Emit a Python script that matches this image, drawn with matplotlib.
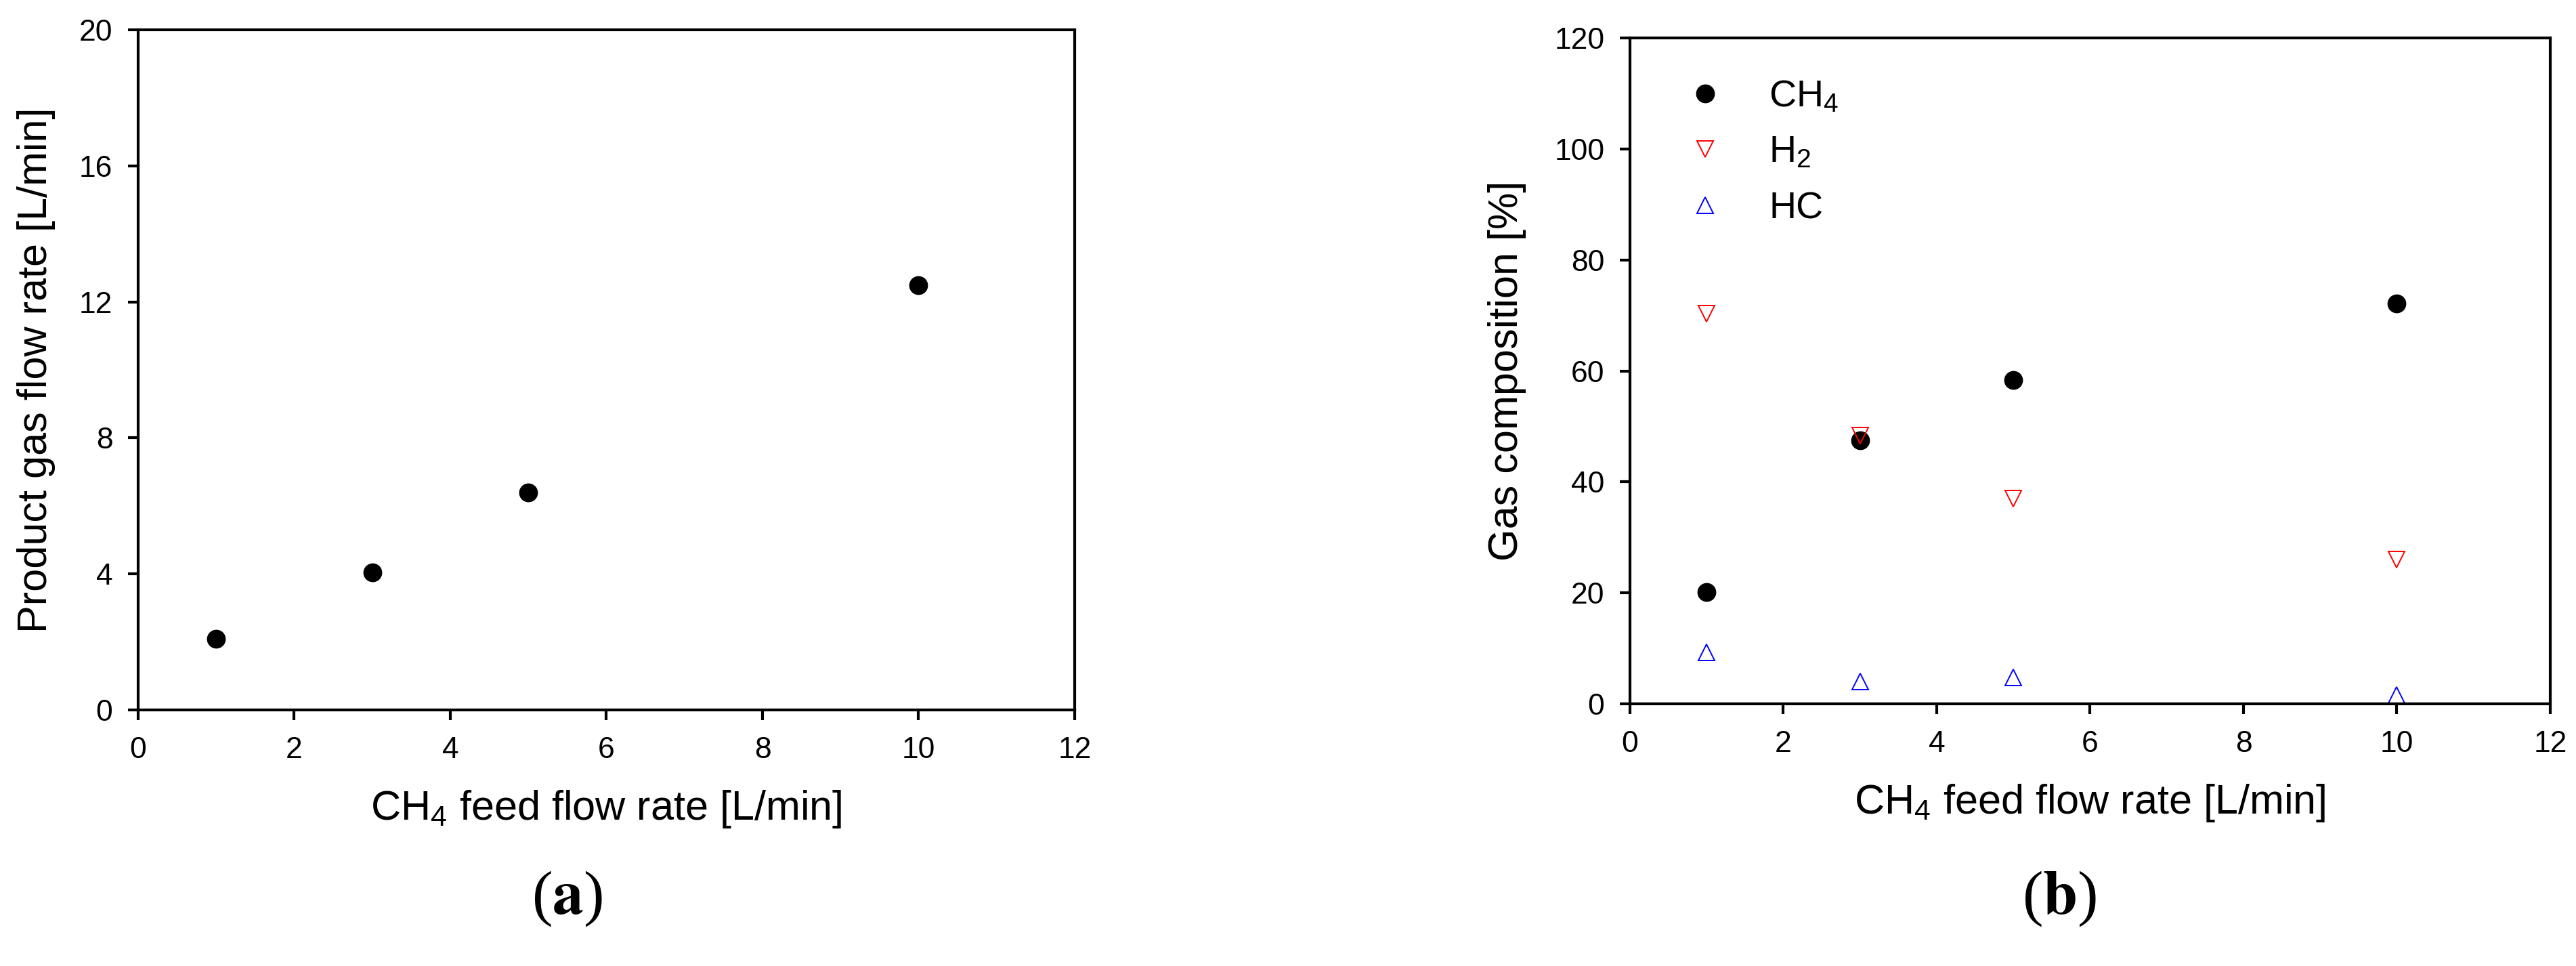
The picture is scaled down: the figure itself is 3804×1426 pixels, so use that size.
import matplotlib
matplotlib.use("Agg")
import matplotlib.pyplot as plt

# ---- data ----
feed_rate = [1, 3, 5, 10]
product_flow = [2.1, 4.05, 6.4, 12.5]
ch4_comp = [20.2, 47.5, 58.3, 72.2]
h2_comp = [70.3, 48.3, 37.0, 26.0]
hc_comp = [9.3, 4.0, 4.8, 1.6]
x_ticks = [0, 2, 4, 6, 8, 10, 12]
y_ticks_a = [0, 4, 8, 12, 16, 20]
y_ticks_b = [0, 20, 40, 60, 80, 100, 120]

plt.rcParams['font.family'] = ['Liberation Sans', 'DejaVu Sans']
plt.rcParams['mathtext.fontset'] = 'custom'
plt.rcParams['mathtext.rm'] = 'Liberation Sans'
plt.rcParams['mathtext.it'] = 'Liberation Sans:italic'
plt.rcParams['mathtext.bf'] = 'Liberation Sans:bold'

W, H = 3805, 1426
fig = plt.figure(figsize=(W / 100, H / 100), dpi=100)

def px_axes(x0, x1, y0, y1):
    return fig.add_axes([x0 / W, (H - y1) / H, (x1 - x0) / W, (y1 - y0) / H])

ax1 = px_axes(204, 1587, 44, 1048)
ax2 = px_axes(2407, 3766, 56, 1039)

tick_fs = 32
label_fs = 44
lw = 3.0

for ax in (ax1, ax2):
    for s in ax.spines.values():
        s.set_linewidth(lw)
    ax.tick_params(direction='out', length=11, width=lw, labelsize=tick_fs,
                   top=False, right=False, pad=17)
    ax.tick_params(axis='y', pad=16)
    ax.set_xlim(0, 12)
    ax.set_xticks(x_ticks)
    ax.set_xlabel(r'CH$_4$ feed flow rate [L/min]', fontsize=label_fs, labelpad=26)

ax1.set_ylim(0, 20)
ax1.set_yticks(y_ticks_a)
ax1.set_ylabel('Product gas flow rate [L/min]', fontsize=label_fs, labelpad=25)
ax1.plot(feed_rate, product_flow, 'o', color='black', markersize=19, linestyle='none')

ax2.set_ylim(0, 120)
ax2.set_yticks(y_ticks_b)
ax2.set_ylabel('Gas composition [%]', fontsize=label_fs, labelpad=30)
ax2.plot(feed_rate, ch4_comp, 'o', color='black', markersize=19, linestyle='none', label=r'CH$_4$')
ax2.plot(feed_rate, h2_comp, 'v', markerfacecolor='none', markeredgecolor='#ff0000',
         markeredgewidth=1.4, markersize=17, linestyle='none', label=r'H$_2$')
ax2.plot(feed_rate, hc_comp, '^', markerfacecolor='none', markeredgecolor='#0000ff',
         markeredgewidth=1.4, markersize=17, linestyle='none', label='HC')
ax2.legend(loc='upper left', bbox_to_anchor=(0.061, 0.938), frameon=False,
           fontsize=40, borderpad=0, borderaxespad=0, handlelength=1.0,
           handletextpad=1.2, labelspacing=0.55)

fig.text(837 / W, 1 - 1327 / H, r'($\mathbf{a}$)', family='Liberation Serif',
         math_fontfamily='stix', fontsize=66, ha='center', va='center')
fig.text(3041 / W, 1 - 1327 / H, r'($\mathbf{b}$)', family='Liberation Serif',
         math_fontfamily='stix', fontsize=66, ha='center', va='center')

fig.savefig('out.png', dpi=100)
